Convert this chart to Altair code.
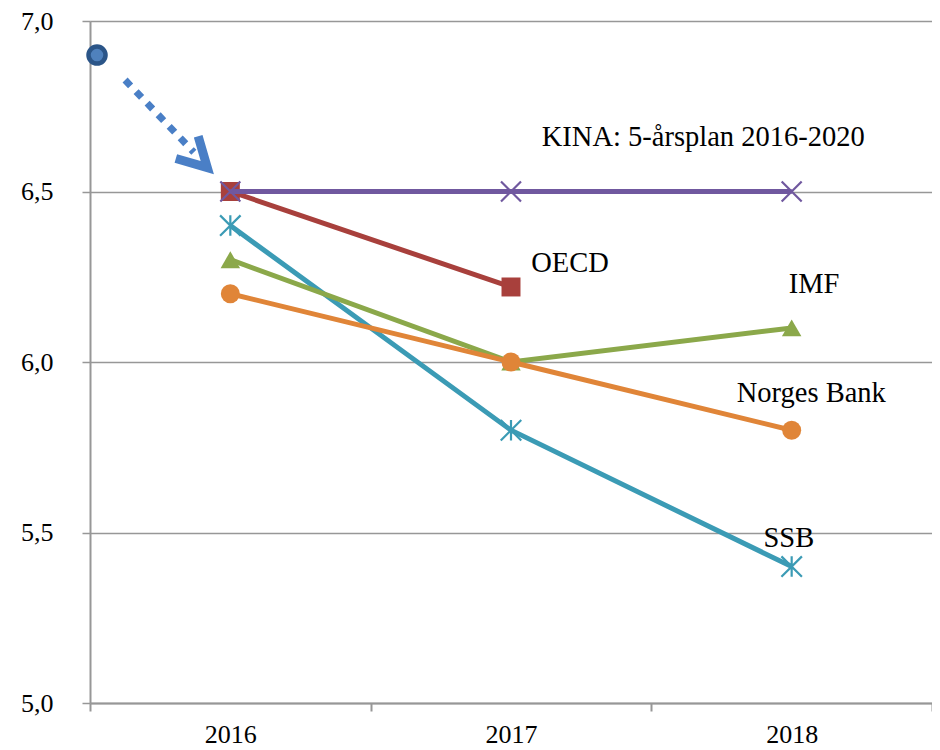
import altair as alt
import pandas as pd

# ---- data ----
years = [2016, 2017, 2018]
kina = [6.5, 6.5, 6.5]
oecd_years = [2016, 2017]
oecd = [6.5, 6.22]
imf = [6.3, 6.0, 6.1]
norges = [6.2, 6.0, 5.8]
ssb = [6.4, 5.8, 5.4]

start_x = [2015.525]
start_y = [6.9]
arrow_x = [2015.625, 2015.87]
arrow_y = [6.827, 6.615]
tip_x = [2015.918]
tip_y = [6.570]

label_text = ["KINA: 5-årsplan 2016-2020", "OECD", "IMF", "Norges Bank", "SSB"]
label_x = [2017.685, 2017.21, 2018.08, 2018.07, 2017.99]
label_y = [6.66, 6.29, 6.23, 5.91, 5.485]

x_ticks = [2015.5, 2016, 2016.5, 2017, 2017.5, 2018, 2018.5]
y_ticks = [5.0, 5.5, 6.0, 6.5, 7.0]

FONT = "Liberation Serif"
GRID = "#979797"

X_PATH = "M -1 -1 L 1 1 M -1 1 L 1 -1"
AST_PATH = "M -1 -1 L 1 1 M -1 1 L 1 -1 M 0 -1 L 0 1"
CHEVRON = "M -1 -0.55 L 0 0 L -1 0.55"


def xenc():
    return alt.X(
        "x:Q",
        scale=alt.Scale(domain=[2015.5, 2018.5], nice=False, zero=False),
        axis=alt.Axis(
            values=x_ticks,
            title=None,
            grid=False,
            labelExpr="datum.value % 1 == 0 ? format(datum.value, 'd') : ''",
            tickOpacity={"expr": "datum.value % 1 == 0 ? 0 : 1"},
            tickSize=8,
            tickColor=GRID,
            tickWidth=2,
            domainColor=GRID,
            domainWidth=2,
            labelFont=FONT,
            labelFontSize=26,
            labelColor="black",
            labelPadding=10,
        ),
    )


def yenc():
    return alt.Y(
        "y:Q",
        scale=alt.Scale(domain=[5.0, 7.0], nice=False, zero=False),
        axis=alt.Axis(
            values=y_ticks,
            title=None,
            grid=True,
            gridColor=GRID,
            gridWidth=1.5,
            labelExpr="replace(format(datum.value, '.1f'), '.', ',')",
            tickSize=8,
            tickColor=GRID,
            tickWidth=1.5,
            domainColor=GRID,
            domainWidth=2,
            labelFont=FONT,
            labelFontSize=26,
            labelColor="black",
            labelPadding=29,
        ),
    )


def df(xs, ys):
    return pd.DataFrame({"x": xs, "y": ys})


layers = []

series = [
    ("SSB", years, ssb, "#3b9bb5", dict(shape=AST_PATH, filled=False, size=420, strokeWidth=2.2)),
    ("IMF", years, imf, "#8ba84a", dict(shape="triangle-up", filled=True, size=380)),
    ("Norges Bank", years, norges, "#e08538", dict(shape="circle", filled=True, size=360)),
    ("OECD", oecd_years, oecd, "#a8403c", dict(shape="square", filled=True, size=360)),
    ("KINA", years, kina, "#70589f", dict(shape=X_PATH, filled=False, size=400, strokeWidth=2.2)),
]

for name, xs, ys, col, pt in series:
    d = df(xs, ys)
    base = alt.Chart(d)
    layers.append(base.mark_line(color=col, strokeWidth=5).encode(x=xenc(), y=yenc()))
    layers.append(base.mark_point(color=col, opacity=1, **pt).encode(x=xenc(), y=yenc()))

# starting point and dotted arrow
layers.append(
    alt.Chart(df(arrow_x, arrow_y))
    .mark_line(color="#4a7fc6", strokeWidth=7, strokeDash=[8, 8])
    .encode(x=xenc(), y=yenc())
)
layers.append(
    alt.Chart(df(tip_x, tip_y))
    .mark_point(shape=CHEVRON, filled=False, color="#4a7fc6", strokeWidth=9,
                size=3300, angle=45, opacity=1, strokeJoin="miter")
    .encode(x=xenc(), y=yenc())
)
layers.append(
    alt.Chart(df(start_x, start_y))
    .mark_point(shape="circle", filled=True, fill="#4f81bd", stroke="#2b5588",
                strokeWidth=4.5, size=290, opacity=1)
    .encode(x=xenc(), y=yenc())
)

# text labels
lab = pd.DataFrame({"x": label_x, "y": label_y, "t": label_text})
layers.append(
    alt.Chart(lab)
    .mark_text(font=FONT, fontSize=28.5, color="black", align="center", baseline="middle")
    .encode(x=xenc(), y=yenc(), text="t:N")
)

chart = (
    alt.layer(*layers)
    .properties(
        width=842,
        height=682,
        autosize=alt.AutoSizeParams(type="none"),
        padding={"left": 82, "top": 13, "right": 0, "bottom": 45},
    )
    .configure_view(stroke=None)
    .configure(background="white")
)

chart.save("out.html", embed_options={"renderer": "svg", "actions": False})
